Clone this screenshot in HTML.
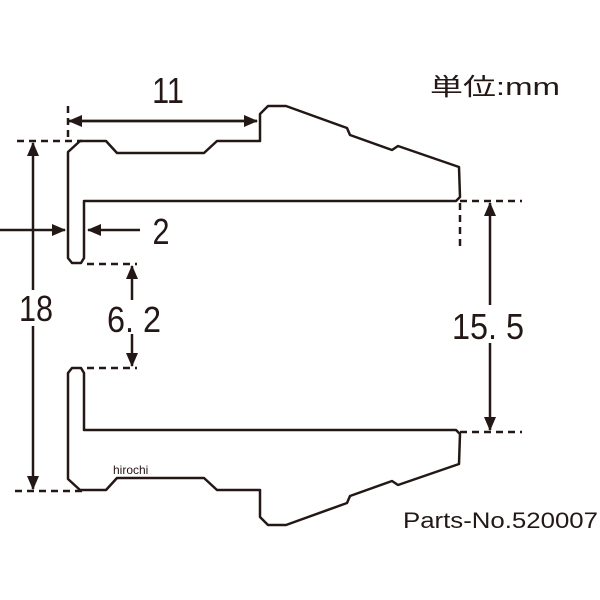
<!DOCTYPE html>
<html><head><meta charset="utf-8"><style>
html,body{margin:0;padding:0;background:#fff;}
svg{display:block;}
text{font-family:"Liberation Sans","Noto Sans CJK JP",sans-serif;fill:#231815;}
</style></head><body>
<svg width="600" height="600" viewBox="0 0 600 600" xmlns="http://www.w3.org/2000/svg">
<defs>
<marker id="a" markerWidth="14" markerHeight="12" refX="13" refY="6" orient="auto" markerUnits="userSpaceOnUse"><path d="M0,0 L14,6 L0,12 Z" fill="#231815"/></marker>
</defs>
<g fill="none" stroke="#231815" stroke-width="2.5" stroke-linejoin="round">
<path id="p" d="M68,152 L80,141 L106,141 L117,153 L204,153 L217,141 L260,141 L260,114 L268,106 L286,106 L347,128 L350,135 L392,150 L398,146 L459,167 L460,197 L456,201 L84,201 L84,258 L81,263 L72,263 L68,258 Z"/>
<use href="#p" transform="translate(0,631) scale(1,-1)"/>
</g>
<g stroke="#231815" stroke-width="2.5" fill="none">
<line x1="68" y1="121" x2="257" y2="121" marker-end="url(#a)"/>
<line x1="257" y1="121" x2="69" y2="121" marker-end="url(#a)"/>
<line x1="33" y1="305" x2="33" y2="143" marker-end="url(#a)"/>
<line x1="33" y1="305" x2="33" y2="489" marker-end="url(#a)"/>
<line x1="0" y1="230" x2="65" y2="230" marker-end="url(#a)"/>
<line x1="140" y1="230" x2="88" y2="230" marker-end="url(#a)"/>
<line x1="132" y1="300" x2="132" y2="266" marker-end="url(#a)"/>
<line x1="132" y1="334" x2="132" y2="366" marker-end="url(#a)"/>
<line x1="490" y1="310" x2="490" y2="203" marker-end="url(#a)"/>
<line x1="490" y1="310" x2="490" y2="430" marker-end="url(#a)"/>
</g>
<g stroke="#231815" stroke-width="2.5" stroke-dasharray="7,5" fill="none">
<line x1="68" y1="106" x2="68" y2="140"/>
<line x1="17" y1="141" x2="82" y2="141"/>
<line x1="15" y1="491" x2="82" y2="491"/>
<line x1="87" y1="264" x2="137" y2="264"/>
<line x1="87" y1="368" x2="137" y2="368"/>
<line x1="460" y1="201" x2="522" y2="201"/>
<line x1="460" y1="432" x2="522" y2="432"/>
<line x1="460" y1="203" x2="460" y2="250"/>
</g>
<text font-size="36" text-anchor="middle" transform="translate(168,103) scale(0.85,1)">11</text>
<rect x="18" y="290" width="34" height="36" fill="#fff"/>
<text font-size="36" text-anchor="middle" transform="translate(36,321) scale(0.85,1)">18</text>
<text font-size="36" text-anchor="middle" transform="translate(161,244) scale(0.85,1)">2</text>
<text font-size="36" text-anchor="middle" transform="translate(134,332) scale(0.9,1)">6. 2</text>
<rect x="445" y="305" width="86" height="38" fill="#fff"/>
<text font-size="36" text-anchor="middle" transform="translate(488,339) scale(0.9,1)">15. 5</text>
<text x="430" y="95" font-size="24" textLength="130" lengthAdjust="spacingAndGlyphs">単位:mm</text>
<text x="113" y="474" font-size="12">hirochi</text>
<text x="403" y="528" font-size="22" textLength="195" lengthAdjust="spacingAndGlyphs">Parts-No.520007</text>
</svg>
</body></html>
